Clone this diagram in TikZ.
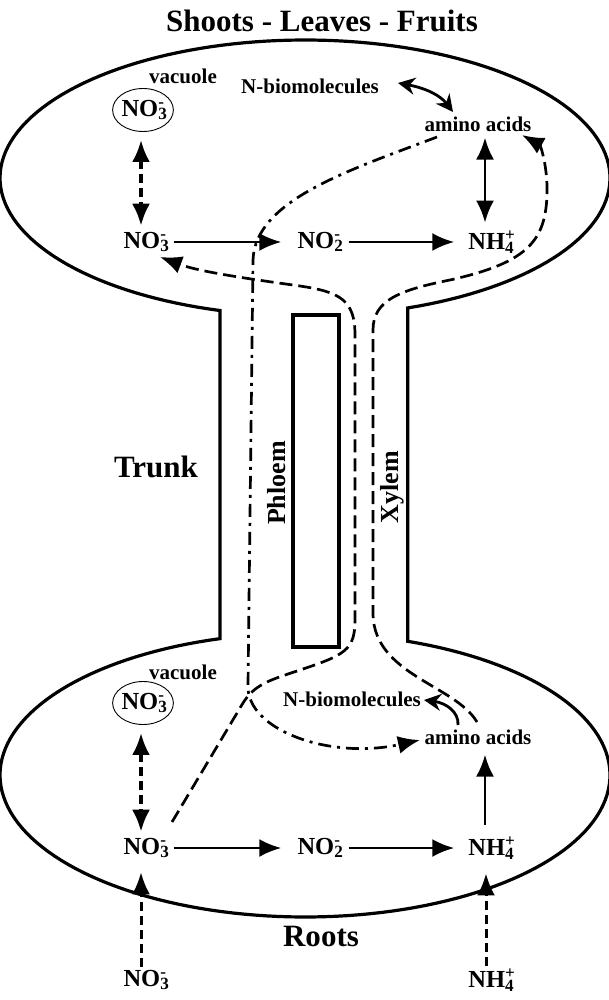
\documentclass[tikz,border=0pt]{standalone}
\usepackage{fontspec}
\setmainfont{Liberation Serif}
\usetikzlibrary{arrows.meta,shapes.geometric,calc}
\newcommand\chm[3]{#1\rlap{\textsubscript{#2}}\textsuperscript{#3}}
\begin{document}
\begin{tikzpicture}[x=1pt,y=-1pt,
  every node/.style={inner sep=0pt},
  >={Latex[length=22pt,width=18pt]},
  lab/.style={font=\fontsize{21}{24}\selectfont\bfseries},
  chem/.style={font=\fontsize{24.5}{28}\selectfont\bfseries},
  big/.style={font=\fontsize{31}{34}\selectfont\bfseries},
  side/.style={font=\fontsize{26}{30}\selectfont\bfseries, rotate=90},
  vac/.style={chem, draw, line width=0.9pt, ellipse, minimum width=58pt, minimum height=43pt},
  outline/.style={line width=3.2pt},
  sarr/.style={line width=2.8pt, ->},
  sdarr/.style={line width=2.8pt, <->},
  curvarr/.style={line width=2.8pt, {Stealth[length=17pt,width=17pt]}-{Stealth[length=17pt,width=17pt]}},
  vacarr/.style={line width=3.6pt, dash pattern=on 9pt off 5pt, <->},
  inarr/.style={line width=3pt, dash pattern=on 9pt off 5pt, ->},
  xyl/.style={line width=2.7pt, dash pattern=on 13pt off 6pt},
  phl/.style={line width=2.7pt, dash pattern=on 13pt off 6pt on 3pt off 6pt}]
\useasboundingbox (0,0) rectangle (609,1000);
% outline
\draw[outline] plot[domain=106.2:430.3,samples=150,variable=\t] ({305+305*cos(\t)},{178+138*sin(\t)})
  -- plot[domain=-70.3:253.8,samples=150,variable=\t] ({305+305*cos(\t)},{775+142*sin(\t)}) -- cycle;
\draw[outline] (293,315) rectangle (339,647);
% texts
\node[big] (title) at (322,21) {Shoots - Leaves - Fruits};
\node[big] (trunk) at (156,467) {Trunk};
\node[big] (roots) at (321,936) {Roots};
\node[side] (phloem) at (277,483) {Phloem};
\node[side] (xylem) at (392,487) {Xylem};
% shoots
\node[lab] (sVacL) at (183,76) {vacuole};
\node[vac] (sVac) at (143,110) {\chm{NO}{3}{-}};
\node[lab] (sNbio) at (310,86) {N-biomolecules};
\node[lab] (sAmino) at (478,124) {amino acids};
\node[chem] (sNO3) at (145,242) {\chm{NO}{3}{-}};
\node[chem] (sNO2) at (319,242) {\chm{NO}{2}{-}};
\node[chem] (sNH4) at (492,242) {\chm{NH}{4}{+}};
% roots
\node[lab] (rVacL) at (183,672) {vacuole};
\node[vac] (rVac) at (143,703) {\chm{NO}{3}{-}};
\node[lab] (rNbio) at (352,699) {N-biomolecules};
\node[lab] (rAmino) at (478,737) {amino acids};
\node[chem] (rNO3) at (145,848) {\chm{NO}{3}{-}};
\node[chem] (rNO2) at (319,848) {\chm{NO}{2}{-}};
\node[chem] (rNH4) at (492,848) {\chm{NH}{4}{+}};
\node[chem] (inNO3) at (145,980) {\chm{NO}{3}{-}};
\node[chem] (inNH4) at (492,980) {\chm{NH}{4}{+}};
% shoot arrows
\draw[vacarr, shorten <=8pt, shorten >=6pt] ([xshift=-2pt]sVac.south) -- ([xshift=-4pt]sNO3.north);
\draw[sarr, shorten <=7pt, shorten >=16pt] (sNO3) -- (sNO2);
\draw[sarr, shorten <=8pt, shorten >=14pt] (sNO2) -- (sNH4);
\draw[sdarr, shorten <=6pt, shorten >=8pt] ([xshift=7pt]sAmino.south) -- ([xshift=-7pt]sNH4.north);
\coordinate (c1) at (398,83);
\coordinate (c2) at (453,112);
\draw[curvarr] (c1) .. controls (425,88) and (440,95) .. (c2);
% root arrows
\draw[vacarr, shorten <=8pt, shorten >=6pt] ([xshift=-2pt]rVac.south) -- ([xshift=-4pt]rNO3.north);
\draw[sarr, shorten <=7pt, shorten >=16pt] (rNO3) -- (rNO2);
\draw[sarr, shorten <=8pt, shorten >=14pt] (rNO2) -- (rNH4);
\draw[sarr, shorten <=12pt, shorten >=10pt] ([xshift=-7pt]rNH4.north) -- ([xshift=7pt]rAmino.south);
\draw[inarr, shorten <=3pt, shorten >=14pt] ([xshift=-4pt]inNO3.north) -- ([xshift=-4pt]rNO3.south);
\draw[inarr, shorten <=3pt, shorten >=14pt] ([xshift=-6pt]inNH4.north) -- ([xshift=-6pt]rNH4.south);
\coordinate (c3) at (458,725);
\coordinate (c4) at (424,700);
\draw[line width=2.8pt, -{Stealth[length=17pt,width=17pt]}] (c3) .. controls (459,712) and (446,703) .. (c4);
% xylem: nitrate
\coordinate (a0) at (172,822);
\coordinate (a5) at (160,257);
\draw[xyl, ->] (a0) -- (243,703) .. controls (255,684) and (270,680) .. (300,670)
  .. controls (345,655) and (355,650) .. (355,620) -- (355,335)
  .. controls (355,300) and (340,292) .. (300,286)
  .. controls (250,279) and (200,272) .. (a5);
% xylem: amino acids
\coordinate (b0) at (477,722);
\coordinate (b5) at (522,135);
\draw[xyl, ->] (b0) .. controls (455,685) and (375,675) .. (373,615) -- (373,330)
  .. controls (373,300) and (400,290) .. (450,280)
  .. controls (530,262) and (548,240) .. (547,185)
  .. controls (546,160) and (540,145) .. (b5);
% phloem
\coordinate (p0) at (437,137);
\coordinate (p5) at (420,740);
\draw[phl, ->] (p0) .. controls (350,170) and (255,200) .. (253,260) -- (248,685)
  .. controls (246,730) and (330,760) .. (p5);
\end{tikzpicture}
\end{document}
